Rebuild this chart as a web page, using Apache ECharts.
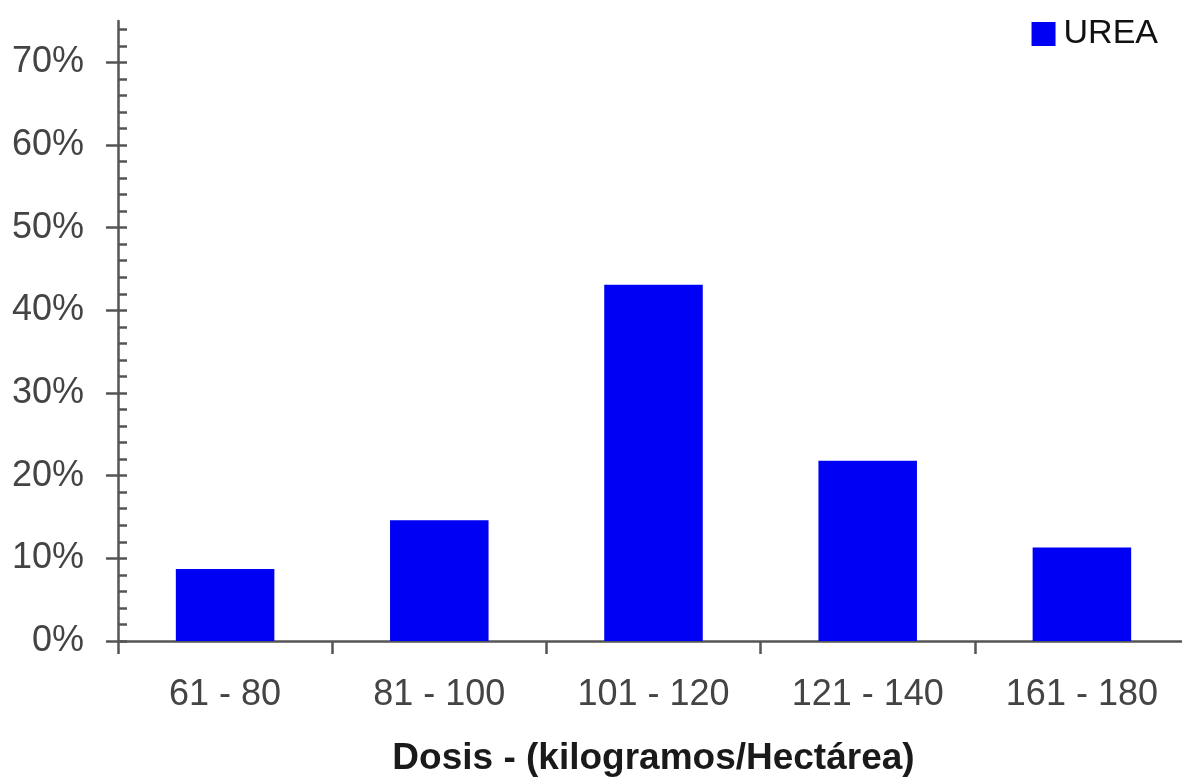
<!DOCTYPE html>
<html>
<head>
<meta charset="utf-8">
<script src="https://cdn.jsdelivr.net/npm/echarts@6/dist/echarts.min.js"></script>
<style>
html,body{margin:0;padding:0;background:#fff;}
#chart{width:1182px;height:778px;}
</style>
</head>
<body>
<div id="chart"></div>
<script>
const categories = ['61 - 80', '81 - 100', '101 - 120', '121 - 140', '161 - 180'];
const ureaValues = [8.7, 14.6, 43.1, 21.8, 11.3];
const seriesName = 'UREA';
const yMajorTicks = [0, 10, 20, 30, 40, 50, 60, 70];
const yMinorTicks = [2, 4, 6, 8, 12, 14, 16, 18, 22, 24, 26, 28, 32, 34, 36, 38, 42, 44, 46, 48, 52, 54, 56, 58, 62, 64, 66, 68, 72, 74];
const xTitle = 'Dosis - (kilogramos/Hectárea)';

const FONT = '"Liberation Sans", Arial, sans-serif';
const chart = echarts.init(document.getElementById('chart'), null, {renderer: 'canvas'});
chart.setOption({
  backgroundColor: '#ffffff',
  animation: false,
  legend: {
    top: 12, right: 19,
    itemWidth: 24, itemHeight: 24, itemGap: 10,
    icon: 'rect',
    textStyle: {fontFamily: FONT, fontSize: 34, color: '#111', padding: [0, 0, 0, 3]},
    data: [seriesName]
  },
  grid: {left: 118, right: -7, top: 21, bottom: 137, containLabel: false, outerBoundsMode: 'none'},
  xAxis: {
    type: 'category',
    data: categories,
    boundaryGap: true,
    axisLine: {lineStyle: {color: '#555', width: 2.5}},
    axisTick: {show: true, length: 13, alignWithLabel: false, lineStyle: {color: '#555', width: 2.5}},
    axisLabel: {fontFamily: FONT, fontSize: 36, color: '#444', margin: 36},
    name: xTitle,
    nameLocation: 'middle',
    nameGap: 99,
    nameTextStyle: {fontFamily: FONT, fontSize: 37, fontWeight: 'bold', color: '#1a1a1a', align: 'center'},
    splitLine: {show: false}
  },
  yAxis: [
    {
      type: 'value', min: 0, max: 75, interval: 10, position: 'left',
      axisLine: {show: true, lineStyle: {color: '#555', width: 2.5}},
      axisTick: {show: true, inside: false, length: 12, customValues: yMajorTicks, lineStyle: {color: '#555', width: 2.5}},
      axisLabel: {fontFamily: FONT, fontSize: 36, color: '#444', margin: 34, customValues: yMajorTicks, formatter: v => v + '%'},
      splitLine: {show: false}
    },
    {
      type: 'value', min: 0, max: 75, interval: 10, position: 'left',
      axisLine: {show: false},
      axisTick: {show: true, inside: true, length: 9, customValues: yMajorTicks.concat(yMinorTicks), lineStyle: {color: '#555', width: 2.5}},
      axisLabel: {show: false},
      splitLine: {show: false}
    }
  ],
  series: [{
    name: seriesName,
    type: 'bar',
    data: ureaValues,
    barWidth: '46%',
    itemStyle: {color: '#0000f5'}
  }]
});
</script>
</body>
</html>
